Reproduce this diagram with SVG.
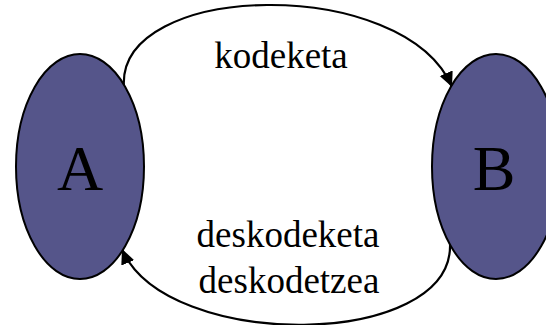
<svg xmlns="http://www.w3.org/2000/svg" width="546" height="325" viewBox="0 0 546 325">
<style>
.node{fill:#55558a;stroke:#000;stroke-width:2}
.lbl{font-family:"Liberation Serif","Times New Roman",serif;fill:#000}
.big{font-size:64px;text-anchor:middle}
.edge-lbl{font-size:37px;text-anchor:middle}
.edge{fill:none;stroke:#000;stroke-width:2.2}
</style>
<defs>
<marker id="arr" markerUnits="userSpaceOnUse" markerWidth="18" markerHeight="16" refX="15" refY="7" orient="auto">
<path d="M0,0 L15,7 L0,14 Z" fill="#000"/>
</marker>
</defs>
<rect width="546" height="325" fill="#fff"/>
<g id="edges">
<path class="edge" d="M124,88 C115,-20 405,-25 452,87" marker-end="url(#arr)"/>
<path class="edge" d="M450,243 C455,350 165,352 122,249" marker-end="url(#arr)"/>
</g>
<g id="node-A">
<ellipse class="node" cx="80" cy="166.5" rx="64" ry="112.5"/>
<text class="lbl big" x="80" y="190">A</text>
</g>
<g id="node-B">
<ellipse class="node" cx="496" cy="166.5" rx="64" ry="112.5"/>
<text class="lbl big" x="494" y="190">B</text>
</g>
<g id="labels">
<text class="lbl edge-lbl" x="281" y="68">kodeketa</text>
<text class="lbl edge-lbl" x="288" y="247">deskodeketa</text>
<text class="lbl edge-lbl" x="289" y="293">deskodetzea</text>
</g>
</svg>
